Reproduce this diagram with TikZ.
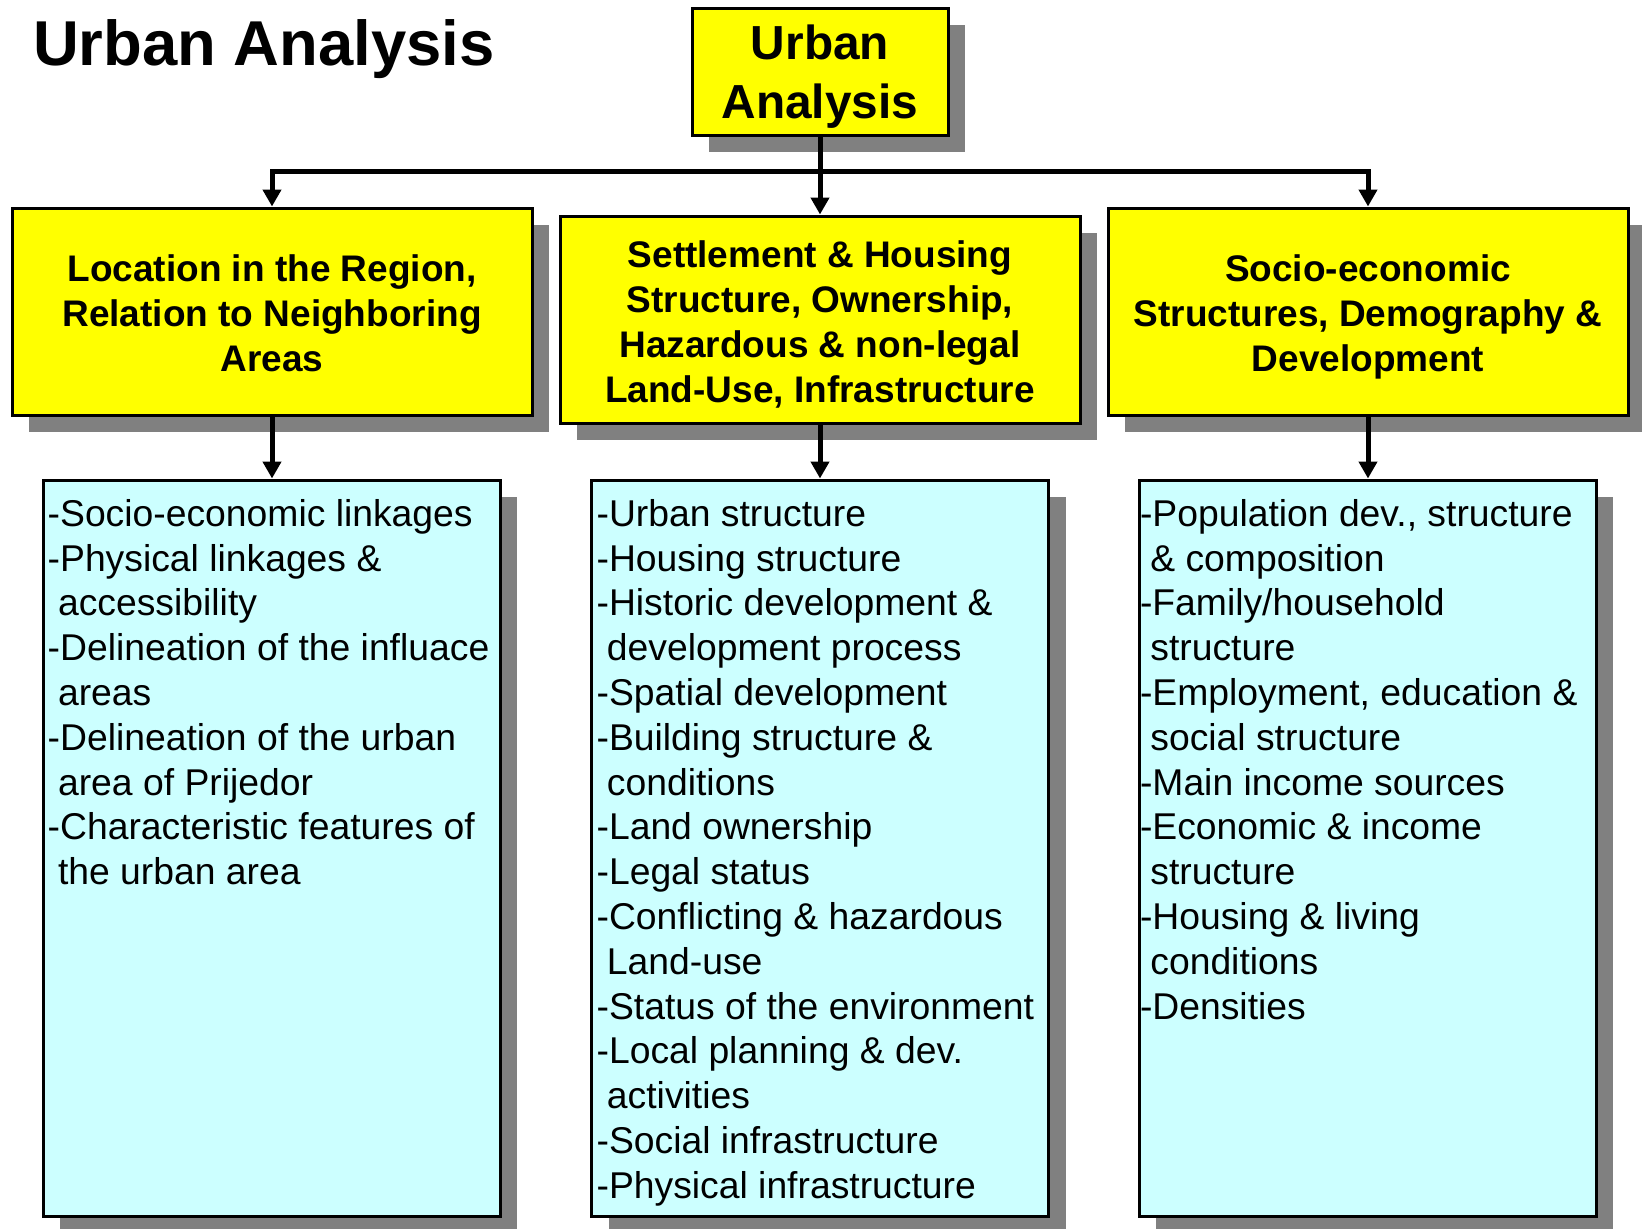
\documentclass[tikz,border=0pt]{standalone}
\usepackage{fontspec}
\setmainfont{Liberation Sans}
\usetikzlibrary{shadows,arrows.meta}
\definecolor{boxyellow}{HTML}{FFFF00}
\definecolor{boxcyan}{HTML}{CCFFFF}
\definecolor{shadowgray}{HTML}{808080}
\newcommand\myind{\hspace*{0.278em}}
\newcommand\firstline{\rule{0pt}{30pt}}
\newcommand\hfirst{\rule{0pt}{40pt}}
\newcommand\hlast{\rule[-10pt]{0pt}{10pt}}
\newcommand\tfirst{\rule{0pt}{46pt}}
\newcommand\tlast{\rule[-12pt]{0pt}{12pt}}
\begin{document}
\begin{tikzpicture}[x=1pt,y=-1pt,
  boxshadow/.style={drop shadow={shadow xshift=17pt,shadow yshift=-17pt,fill=shadowgray,opacity=1}},
  headbox/.style={draw=black,line width=3pt,fill=boxyellow,boxshadow,align=center,inner sep=0pt,
     minimum width=520pt,minimum height=207pt,font=\fontsize{37}{45}\selectfont\bfseries},
  listbox/.style={draw=black,line width=3pt,fill=boxcyan,boxshadow,inner sep=0pt,
     minimum width=457pt,minimum height=736pt},
  listtext/.style={anchor=north west,inner sep=0pt,align=left,font=\fontsize{37.3}{44.8}\selectfont},
  conn/.style={line width=5pt,black},
  arr/.style={conn,-{Triangle[width=18pt,length=17pt]}}
]
\useasboundingbox (0,0) rectangle (1642,1229);
\clip (0,0) rectangle (1642,1229);

\node[anchor=base west,inner sep=0pt,font=\fontsize{63.4}{70}\selectfont\bfseries] (title) at (33,65) {Urban Analysis};

\node[headbox,minimum width=256pt,minimum height=127pt,font=\fontsize{47.8}{59}\selectfont\bfseries] (top) at (820,71.5) {\tfirst Urban\\Analysis\tlast};

\node[headbox] (lyel) at (272,311.5) {\hfirst Location in the Region,\\Relation to Neighboring\\Areas\hlast};
\node[headbox] (myel) at (820,319.5) {\hfirst Settlement \& Housing\\Structure, Ownership,\\Hazardous \& non-legal\\Land-Use, Infrastructure\hlast};
\node[headbox] (ryel) at (1368,311.5) {\hfirst Socio-economic\\Structures, Demography \&\\Development\hlast};

\node[listbox] (lcy) at (271.5,848) {};
\node[listbox] (mcy) at (820,848) {};
\node[listbox] (rcy) at (1367.5,848) {};

\node[listtext] (ltext) at ([xshift=6pt,yshift=-17.5pt]lcy.north west) {\firstline-Socio-economic linkages\\
-Physical linkages \&\\
\myind accessibility\\
-Delineation of the influace\\
\myind areas\\
-Delineation of the urban\\
\myind area of Prijedor\\
-Characteristic features of\\
\myind the urban area};

\node[listtext] (mtext) at ([xshift=6.4pt,yshift=-17.5pt]mcy.north west) {\firstline-Urban structure\\
-Housing structure\\
-Historic development \&\\
\myind development process\\
-Spatial development\\
-Building structure \&\\
\myind conditions\\
-Land ownership\\
-Legal status\\
-Conflicting \& hazardous\\
\myind Land-use\\
-Status of the environment\\
-Local planning \& dev.\\
\myind activities\\
-Social infrastructure\\
-Physical infrastructure};

\node[listtext] (rtext) at ([xshift=2.3pt,yshift=-17.5pt]rcy.north west) {\firstline-Population dev., structure\\
\myind\& composition\\
-Family/household\\
\myind structure\\
-Employment, education \&\\
\myind social structure\\
-Main income sources\\
-Economic \& income\\
\myind structure\\
-Housing \& living\\
\myind conditions\\
-Densities};

\coordinate (j) at (820,171.5);
\draw[conn] (top.south) -- (j);
\draw[arr] (j) -- (myel.north);
\draw[arr] (j) -| (lyel.north);
\draw[arr] (j) -| (ryel.north);

\draw[arr] (lyel.south) -- (lyel.south |- lcy.north);
\draw[arr] (myel.south) -- (myel.south |- mcy.north);
\draw[arr] (ryel.south) -- (ryel.south |- rcy.north);
\end{tikzpicture}
\end{document}
